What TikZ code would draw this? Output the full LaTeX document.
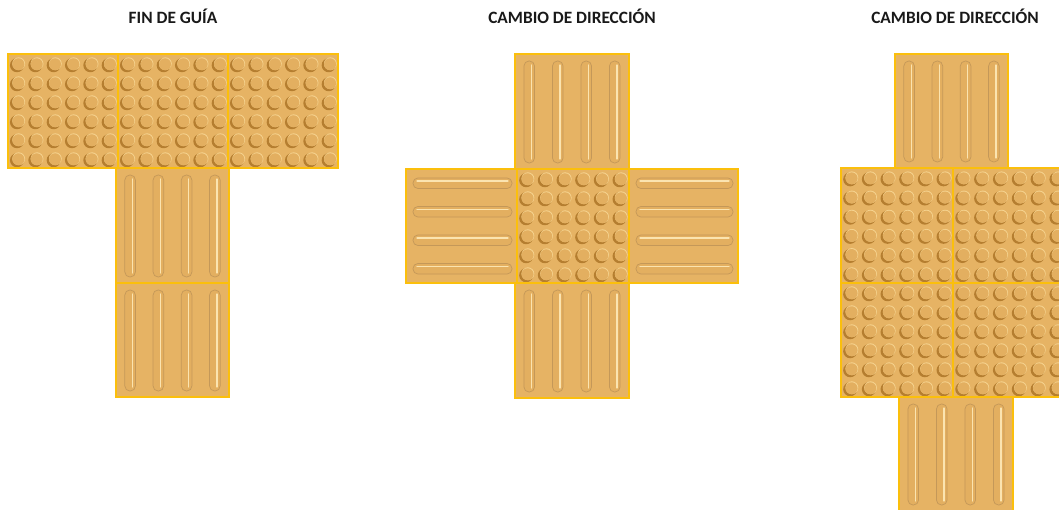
\documentclass[tikz,border=0pt]{standalone}
\usepackage{fontspec}
\setmainfont{Carlito}
\definecolor{tilefill}{HTML}{E6B364}
\definecolor{tileedge}{HTML}{FBBF0C}
\definecolor{bumpdark}{HTML}{B57E30}
\definecolor{bumplight}{HTML}{F6D490}
\definecolor{barlight}{HTML}{FBE4B0}
\definecolor{bumpbody}{HTML}{E3AF60}
\tikzset{
  tileedgeline/.style={draw=tileedge, line width=2.8pt},
  title/.style={font=\bfseries\fontsize{17.3}{20}\selectfont, text=black!90, inner sep=0pt, anchor=base},
  barrim/.style={fill=bumpbody, draw=bumpdark!80, line width=0.7pt},
  barshine/.style={draw=barlight, line width=1.3pt, line cap=round},
}
% tile of truncated domes: 6 x 6 studs
\newcommand\domeTile[4]{%
  \fill[tilefill] (#1,#2) rectangle (#3,#4);
  \pgfmathsetmacro\dx{(#3-#1)/6}\pgfmathsetmacro\dy{(#4-#2)/6}
  \foreach \i in {0,...,5}{\foreach \j in {0,...,5}{
    \pgfmathsetmacro\cx{#1+(\i+0.55)*\dx}\pgfmathsetmacro\cy{#2+(\j+0.55)*\dy}
    \fill[bumpdark] (\cx-1.1,\cy+0.8) circle (7.0);
    \fill[bumplight] (\cx+0.6,\cy-0.7) circle (6.4);
    \fill[bumpbody] (\cx+0.3,\cy-0.2) circle (6.0);
  }}
}
% tile of four guide bars running top to bottom
\newcommand\barTileV[4]{%
  \fill[tilefill] (#1,#2) rectangle (#3,#4);
  \pgfmathsetmacro\dx{(#3-#1)/4}
  \foreach \k in {0,...,3}{
    \pgfmathsetmacro\cx{#1+(\k+0.5)*\dx}
    \draw[barrim, rounded corners=5pt] (\cx-5.3,#2+7) rectangle (\cx+5.3,#4-6);
    \draw[barshine] (\cx+2.2,#2+11) -- (\cx+2.2,#4-10);
  }
}
% tile of four guide bars running left to right
\newcommand\barTileH[4]{%
  \fill[tilefill] (#1,#2) rectangle (#3,#4);
  \pgfmathsetmacro\dy{(#4-#2)/4}
  \foreach \k in {0,...,3}{
    \pgfmathsetmacro\cy{#2+(\k+0.5)*\dy}
    \draw[barrim, rounded corners=5pt] (#1+7,\cy-5.3) rectangle (#3-5,\cy+5.3);
    \draw[barshine] (#1+11,\cy-2.2) -- (#3-9,\cy-2.2);
  }
}
\newcommand\tileEdge[4]{\draw[tileedgeline] (#1,#2) rectangle (#3,#4);}
\begin{document}
\begin{tikzpicture}[x=1pt, y=-1pt]
\useasboundingbox (0,0) rectangle (1059,510);
\clip (0,0) rectangle (1059,510);
\fill[white] (0,0) rectangle (1059,510);

% titles
\node[title] (t1) at (173,24) {FIN DE GUÍA};
\node[title] (t2) at (572,24) {CAMBIO DE DIRECCIÓN};
\node[title] (t3) at (955,24) {CAMBIO DE DIRECCIÓN};

% end of guide: a row of dome tiles over a bar column
\domeTile{8}{54}{118}{168}
\domeTile{118}{54}{228}{168}
\domeTile{228}{54}{338}{168}
\barTileV{116}{168}{229}{283}
\barTileV{116}{283}{229}{397}

% change of direction: cross
\barTileV{515}{54}{629}{169}
\barTileH{406}{169}{517}{283}
\barTileH{629}{169}{738}{283}
\domeTile{517}{169}{629}{283}
\barTileV{515}{283}{629}{398}

% change of direction: 2 x 2 dome block
\barTileV{895}{54}{1008}{168}
\domeTile{841}{168}{953}{283}
\domeTile{953}{168}{1066}{283}
\domeTile{841}{283}{953}{397}
\domeTile{953}{283}{1066}{397}
\barTileV{899}{397}{1013}{511}

% gold joints, drawn over every tile
\tileEdge{8}{54}{118}{168}
\tileEdge{118}{54}{228}{168}
\tileEdge{228}{54}{338}{168}
\tileEdge{116}{168}{229}{283}
\tileEdge{116}{283}{229}{397}
\tileEdge{515}{54}{629}{169}
\tileEdge{406}{169}{517}{283}
\tileEdge{629}{169}{738}{283}
\tileEdge{517}{169}{629}{283}
\tileEdge{515}{283}{629}{398}
\tileEdge{895}{54}{1008}{168}
\tileEdge{841}{168}{953}{283}
\tileEdge{953}{168}{1066}{283}
\tileEdge{841}{283}{953}{397}
\tileEdge{953}{283}{1066}{397}
\tileEdge{899}{397}{1013}{511}
\end{tikzpicture}
\end{document}
